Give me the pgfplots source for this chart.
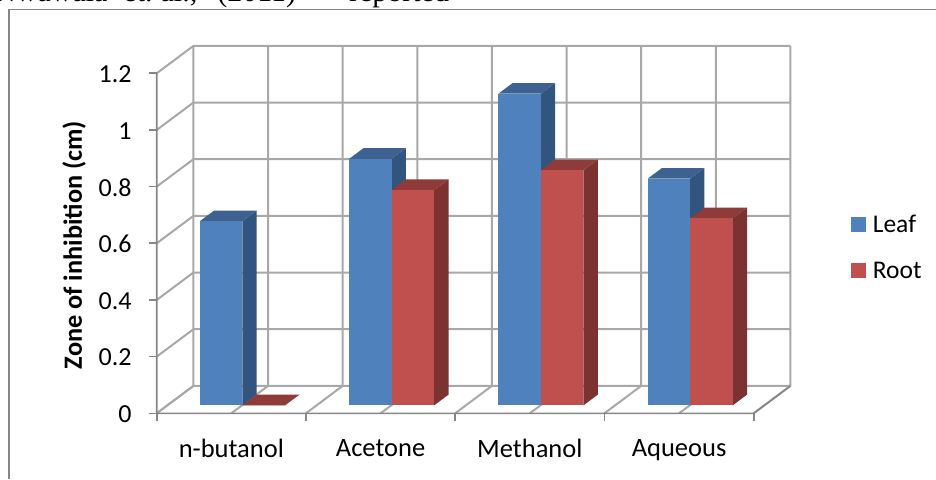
\documentclass[border=0pt]{standalone}
\usepackage{pgfplots}
\pgfplotsset{compat=1.18}
\usepackage{fontspec}
\setmainfont{Carlito}
\newfontfamily\serifpart{Liberation Serif}
\definecolor{leaf}{HTML}{4F81BD}
\definecolor{leafside}{HTML}{31557F}
\definecolor{leaftop}{HTML}{3D6290}
\definecolor{root}{HTML}{C0504D}
\definecolor{rootside}{HTML}{7B3230}
\definecolor{roottop}{HTML}{8F3B39}
\definecolor{gridc}{HTML}{A8A8A8}
\definecolor{axisc}{HTML}{868686}
% one 3-D bar: x0, x1, value, front colour, side colour, top colour
\newcommand{\barthree}[6]{%
  \addplot3[fill=#5,draw=none,forget plot] coordinates {(#2,0.29,0) (#2,0.68,0) (#2,0.68,#3) (#2,0.29,#3)} --cycle;
  \addplot3[fill=#6,draw=none,forget plot] coordinates {(#1,0.29,#3) (#2,0.29,#3) (#2,0.68,#3) (#1,0.68,#3)} --cycle;
  \addplot3[fill=#4,draw=none,forget plot] coordinates {(#1,0.29,0) (#2,0.29,0) (#2,0.29,#3) (#1,0.29,#3)} --cycle;
}
\newcommand{\gridz}[1]{\addplot3[gridc,line width=2pt,forget plot] coordinates {(0,0,#1) (0,1,#1) (4,1,#1)};
  \addplot3[axisc,line width=1.6pt,forget plot] coordinates {(-0.0536,0,#1) (0,0,#1)};}
\newcommand{\gridx}[1]{\addplot3[gridc,line width=2pt,forget plot] coordinates {(#1,0,0) (#1,1,0) (#1,1,1.2)};}
\newcommand{\tickx}[1]{\addplot3[axisc,line width=1.6pt,forget plot] coordinates {(#1,0,0) (#1,0,-0.0282)};}
\begin{document}
\begin{tikzpicture}[x=1pt,y=1pt]
\useasboundingbox (0,0) rectangle (936,479);
\begin{scope}
\clip (0,0) rectangle (936,479);
\node[anchor=base west,font=\serifpart\fontsize{30}{32}\selectfont,inner sep=0pt] at (-6,477) {Nwawala\hspace{16pt}et.\hspace{8pt}al.,\hspace{20pt}(2011)\hspace{11.5pt}—\hspace{11.5pt}reported};
\end{scope}
\draw[axisc,line width=1.6pt] (9,0) -- (9,469.5) -- (936,469.5);
\begin{axis}[
  at={(156.7pt,65.7pt)},anchor=origin,
  x={(149.25pt,0pt)},y={(36.7pt,27.4pt)},z={(0pt,283.33pt)},
  xmin=0,xmax=4,ymin=0,ymax=1,zmin=0,zmax=1.2,
  clip=false,
  axis line style={draw=none},
  xtick={0.5,1.5,2.5,3.5},
  xticklabels={n-butanol,Acetone,Methanol,Aqueous},
  x tick label style={anchor=north,inner sep=0pt,yshift=-26pt,font=\fontsize{26.5}{30}\selectfont},
  ytick=\empty,
  ztick={0,0.2,0.4,0.6,0.8,1,1.2},
  zticklabels={0,0.2,0.4,0.6,0.8,1,1.2},
  z tick label style={anchor=east,inner sep=0pt,xshift=-25pt,yshift=-1pt,font=\fontsize{26}{30}\selectfont},
  xtick pos=left,ztick pos=left,
  tick align=outside,
  major tick length=0pt,
  /pgf/number format/assume math mode=true,
  zlabel={\bfseries Zone of inhibition (cm)},
  every axis z label/.style={at={(axis description cs:-0.1304,0.458)},rotate=90,anchor=center,font=\fontsize{26.3}{30}\selectfont},
  legend image code/.code={\fill[#1] (0pt,-7.5pt) rectangle (15pt,7.5pt);\path (20pt,0pt);},
  legend style={draw=none,fill=none,at={(1.095,0.452)},anchor=west,font=\fontsize{25.5}{30}\selectfont,row sep=24pt,inner sep=0pt},
  legend cell align=left,
]
\addlegendimage{fill=leaf,draw=none}\addlegendentry{Leaf}
\addlegendimage{fill=root,draw=none}\addlegendentry{Root}
\gridz{0.2}\gridz{0.4}\gridz{0.6}\gridz{0.8}\gridz{1}\gridz{1.2}\gridz{0}
\gridx{0}\gridx{0.5}\gridx{1}\gridx{1.5}\gridx{2}\gridx{2.5}\gridx{3}\gridx{3.5}\gridx{4}
\addplot3[axisc,line width=1.6pt,forget plot] coordinates {(0,0,1.2) (0,0,0) (4,0,0) (4,1,0)};
\tickx{0}\tickx{1}\tickx{2}\tickx{3}\tickx{4}
\barthree{0.218}{0.503}{0.65}{leaf}{leafside}{leaftop}
\barthree{0.503}{0.788}{0}{root}{rootside}{roottop}
\barthree{1.218}{1.503}{0.87}{leaf}{leafside}{leaftop}
\barthree{1.503}{1.788}{0.76}{root}{rootside}{roottop}
\barthree{2.218}{2.503}{1.10}{leaf}{leafside}{leaftop}
\barthree{2.503}{2.788}{0.83}{root}{rootside}{roottop}
\barthree{3.218}{3.503}{0.80}{leaf}{leafside}{leaftop}
\barthree{3.503}{3.788}{0.66}{root}{rootside}{roottop}
\end{axis}
\end{tikzpicture}
\end{document}
